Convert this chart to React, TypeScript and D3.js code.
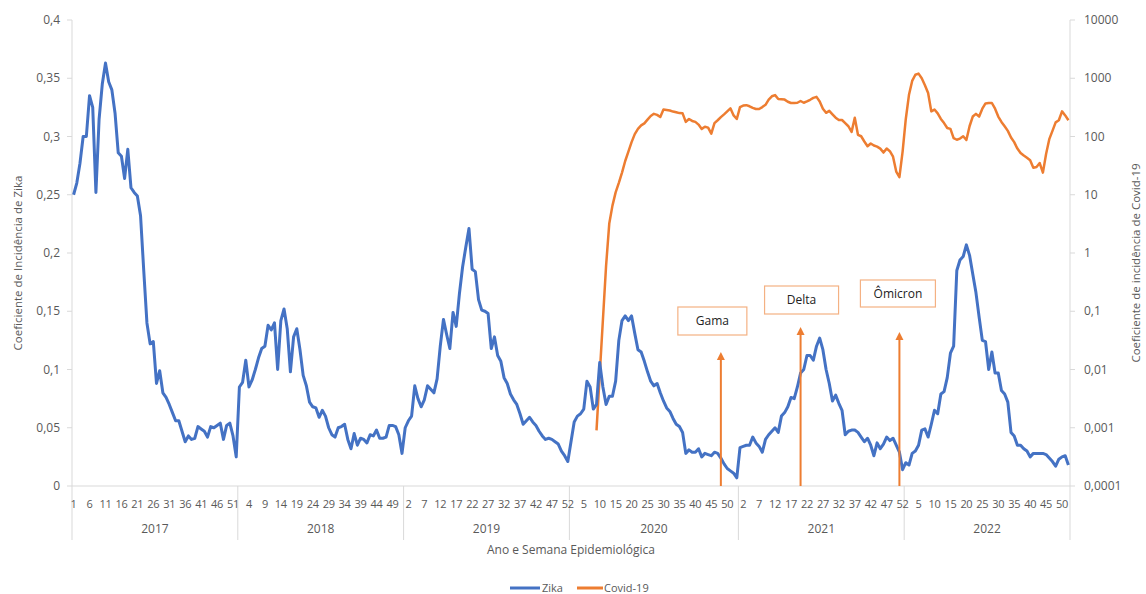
import * as d3 from 'd3';

// epidemiological weeks per year
const years = [2017, 2018, 2019, 2020, 2021, 2022];
const weeksPerYear = [52, 52, 52, 53, 52, 52];

// Zika incidence coefficient, one value per week
const zika2017 = [0.25, 0.26, 0.277, 0.3, 0.3, 0.335, 0.325, 0.252, 0.315, 0.345, 0.363, 0.347, 0.34, 0.32, 0.286, 0.283, 0.264, 0.289, 0.256, 0.252, 0.249, 0.232, 0.185, 0.14, 0.122, 0.124, 0.088, 0.099, 0.08, 0.076, 0.07, 0.063, 0.056, 0.056, 0.047, 0.038, 0.043, 0.04, 0.041, 0.051, 0.049, 0.047, 0.042, 0.051, 0.05, 0.052, 0.054, 0.04, 0.052, 0.054, 0.043, 0.025];
const zika2018 = [0.085, 0.089, 0.108, 0.085, 0.091, 0.1, 0.11, 0.118, 0.12, 0.138, 0.134, 0.14, 0.1, 0.142, 0.152, 0.135, 0.098, 0.128, 0.135, 0.117, 0.095, 0.086, 0.072, 0.068, 0.067, 0.059, 0.065, 0.06, 0.05, 0.044, 0.042, 0.05, 0.051, 0.053, 0.04, 0.032, 0.045, 0.035, 0.041, 0.04, 0.037, 0.044, 0.043, 0.048, 0.041, 0.041, 0.042, 0.052, 0.052, 0.051, 0.044, 0.028];
const zika2019 = [0.05, 0.056, 0.06, 0.086, 0.075, 0.068, 0.074, 0.086, 0.083, 0.08, 0.092, 0.12, 0.143, 0.13, 0.118, 0.149, 0.137, 0.165, 0.188, 0.205, 0.221, 0.186, 0.184, 0.16, 0.151, 0.15, 0.148, 0.118, 0.128, 0.112, 0.107, 0.093, 0.088, 0.079, 0.074, 0.07, 0.062, 0.053, 0.056, 0.059, 0.055, 0.052, 0.047, 0.043, 0.04, 0.041, 0.04, 0.038, 0.036, 0.03, 0.026, 0.021];
const zika2020 = [0.038, 0.055, 0.06, 0.062, 0.066, 0.09, 0.085, 0.066, 0.07, 0.106, 0.085, 0.07, 0.077, 0.077, 0.09, 0.125, 0.142, 0.146, 0.142, 0.146, 0.131, 0.117, 0.115, 0.107, 0.098, 0.09, 0.086, 0.088, 0.08, 0.073, 0.067, 0.064, 0.058, 0.053, 0.051, 0.046, 0.028, 0.031, 0.029, 0.029, 0.032, 0.025, 0.028, 0.027, 0.026, 0.029, 0.028, 0.024, 0.019, 0.015, 0.013, 0.011, 0.007];
const zika2021 = [0.033, 0.034, 0.035, 0.035, 0.042, 0.037, 0.034, 0.029, 0.04, 0.044, 0.047, 0.05, 0.046, 0.06, 0.063, 0.068, 0.076, 0.075, 0.085, 0.097, 0.1, 0.112, 0.112, 0.108, 0.12, 0.127, 0.117, 0.1, 0.088, 0.073, 0.078, 0.071, 0.065, 0.044, 0.047, 0.048, 0.048, 0.046, 0.042, 0.038, 0.041, 0.035, 0.026, 0.037, 0.032, 0.036, 0.042, 0.039, 0.041, 0.035, 0.029, 0.014];
const zika2022 = [0.02, 0.018, 0.028, 0.03, 0.035, 0.048, 0.049, 0.042, 0.053, 0.065, 0.062, 0.079, 0.081, 0.093, 0.114, 0.12, 0.185, 0.194, 0.197, 0.207, 0.198, 0.182, 0.166, 0.145, 0.125, 0.124, 0.1, 0.115, 0.097, 0.097, 0.082, 0.079, 0.072, 0.046, 0.043, 0.035, 0.035, 0.032, 0.03, 0.025, 0.028, 0.028, 0.028, 0.028, 0.027, 0.024, 0.021, 0.017, 0.023, 0.025, 0.026, 0.018];

// Covid-19 incidence coefficient, starts 2020 week 9
const covidStartWeek2020 = 9;
const covid2020 = [0.0009, 0.008, 0.07, 0.6, 3.2, 6.5, 11, 16, 24, 38, 55, 80, 110, 135, 155, 168, 195, 225, 245, 235, 216, 290, 285, 280, 268, 260, 252, 250, 178, 200, 185, 178, 160, 135, 147, 142, 112, 170, 190, 215, 240, 270, 305, 230, 200];
const covid2021 = [320, 340, 345, 330, 310, 296, 296, 320, 350, 430, 490, 513, 440, 437, 430, 395, 376, 376, 380, 407, 380, 400, 427, 460, 479, 400, 300, 255, 275, 240, 210, 192, 192, 170, 150, 120, 210, 107, 101, 82, 68, 76, 70, 67, 62, 53, 62, 56, 45, 25, 20, 55];
const covid2022 = [200, 520, 900, 1150, 1200, 1000, 760, 560, 270, 290, 250, 200, 170, 140, 135, 94, 88, 92, 101, 87, 150, 220, 245, 220, 300, 370, 376, 376, 300, 220, 178, 150, 125, 96, 80, 62, 52, 47, 43, 39, 29, 30, 35, 24, 50, 90, 125, 175, 190, 270, 230, 190];

const zikaTicks = [0, 0.05, 0.1, 0.15, 0.2, 0.25, 0.3, 0.35, 0.4];
const covidTicks = [0.0001, 0.001, 0.01, 0.1, 1, 10, 100, 1000, 10000];

// variants: label, year, week where the arrow points
const variantLabels = ['Gama', 'Delta', 'Ômicron'];
const variantYears = [2020, 2021, 2021];
const variantWeeks = [48, 20, 51];

const W = 1146;
const H = 594;
const M = { left: 72, right: 1070, top: 20, bottom: 486 };
const FONT = "'Open Sans', 'Noto Sans', sans-serif";
const GREY = '#595959';
const AXIS = '#D9D9D9';
const BLUE = '#4472C4';
const ORANGE = '#ED7D31';

// category list (year, week) built from the year table
const cats: { year: number; week: number }[] = [];
years.forEach((y, k) => {
  for (let w = 1; w <= weeksPerYear[k]; w++) cats.push({ year: y, week: w });
});
const idxOf = (year: number, week: number) => cats.findIndex(c => c.year === year && c.week === week);

const zika = [...zika2017, ...zika2018, ...zika2019, ...zika2020, ...zika2021, ...zika2022];
const covidValues = [...covid2020, ...covid2021, ...covid2022];
const covidStart = idxOf(2020, covidStartWeek2020);

const fmt = (v: number) => String(v).replace('.', ',');

// annotation box layout: [dx from arrow, top y, width, height, arrow tip y]
const boxLayout = [
  [-8.5, 307, 69, 28, 352],
  [1, 286, 74, 28, 327],
  [-1.5, 280, 75, 27, 332],
];

export default function App() {
  const x = d3.scaleBand<number>().domain(d3.range(cats.length)).range([M.left, M.right]);
  const xc = (i: number) => (x(i) as number) + x.bandwidth() / 2;
  const yL = d3.scaleLinear().domain([0, 0.4]).range([M.bottom, M.top]);
  const yR = d3.scaleLog().domain([0.0001, 10000]).range([M.bottom, M.top]);

  const zikaLine = d3.line<number>().x((_, i) => xc(i)).y(d => yL(d));
  const covidLine = d3.line<number>().x((_, i) => xc(i + covidStart)).y(d => yR(d));

  // year boundaries
  const yearStarts = years.map(y => idxOf(y, 1));
  const yearBounds = [...yearStarts.map(i => x(i) as number), M.right];

  return (
    <svg width={W} height={H} style={{ position: 'absolute', left: 0, top: 0, background: '#fff' }} fontFamily={FONT}>
      <rect width={W} height={H} fill="#fff" />

      {/* left axis */}
      <line x1={M.left} x2={M.left} y1={M.top} y2={M.bottom} stroke={AXIS} />
      {zikaTicks.map(t => (
        <g key={t}>
          <line x1={M.left - 5} x2={M.left} y1={yL(t)} y2={yL(t)} stroke={AXIS} />
          <text x={60} y={yL(t)} dy="0.35em" textAnchor="end" fontSize={12} fill={GREY}>{fmt(t)}</text>
        </g>
      ))}
      <text transform={`translate(22,${(M.top + M.bottom) / 2 + 10}) rotate(-90)`} textAnchor="middle" fontSize={11.5} fill={GREY}>
        Coeficiente de Incidência de Zika
      </text>

      {/* right axis */}
      <line x1={M.right} x2={M.right} y1={M.top} y2={M.bottom} stroke={AXIS} />
      {covidTicks.map(t => (
        <g key={t}>
          <line x1={M.right} x2={M.right + 5} y1={yR(t)} y2={yR(t)} stroke={AXIS} />
          <text x={1084} y={yR(t)} dy="0.35em" textAnchor="start" fontSize={12} fill={GREY}>{fmt(t)}</text>
        </g>
      ))}
      <text transform={`translate(1140,${(M.top + M.bottom) / 2 + 10}) rotate(-90)`} textAnchor="middle" fontSize={11.5} fill={GREY}>
        Coeficiente de incidência de Covid-19
      </text>

      {/* bottom category axis */}
      <line x1={M.left} x2={M.right} y1={M.bottom} y2={M.bottom} stroke={AXIS} />
      {yearBounds.map((bx, k) => (
        <line key={k} x1={bx} x2={bx} y1={M.bottom} y2={540} stroke={AXIS} />
      ))}
      {cats.map((c, i) => (i % 5 === 0 ? (
        <text key={i} x={xc(i)} y={504} dy="0.35em" textAnchor="middle" fontSize={11} fill={GREY} letterSpacing={-0.3}>{c.week}</text>
      ) : null))}
      {years.map((y, k) => (
        <text key={y} x={(yearBounds[k] + yearBounds[k + 1]) / 2} y={529} dy="0.35em" textAnchor="middle" fontSize={12} fill={GREY}>{y}</text>
      ))}
      <text x={(M.left + M.right) / 2} y={550} dy="0.35em" textAnchor="middle" fontSize={12} fill={GREY}>
        Ano e Semana Epidemiológica
      </text>

      {/* series */}
      <path d={covidLine(covidValues) || ''} fill="none" stroke={ORANGE} strokeWidth={2.5} strokeLinejoin="round" />
      <path d={zikaLine(zika) || ''} fill="none" stroke={BLUE} strokeWidth={3} strokeLinejoin="round" />

      {/* variant annotations */}
      {variantLabels.map((label, k) => {
        const ax = xc(idxOf(variantYears[k], variantWeeks[k]));
        const [dx, top, bw, bh, tip] = boxLayout[k];
        const cx = ax + dx;
        return (
          <g key={label}>
            <line x1={ax} x2={ax} y1={M.bottom} y2={tip + 6} stroke={ORANGE} strokeWidth={2} />
            <path d={`M${ax - 4},${tip + 8} L${ax},${tip} L${ax + 4},${tip + 8} Z`} fill={ORANGE} />
            <rect x={cx - bw / 2} y={top} width={bw} height={bh} fill="#fff" stroke="#F4B183" strokeWidth={1.2} />
            <text x={cx} y={top + bh / 2} dy="0.35em" textAnchor="middle" fontSize={12} fill="#222">{label}</text>
          </g>
        );
      })}

      {/* legend */}
      <line x1={510} x2={540} y1={588} y2={588} stroke={BLUE} strokeWidth={3} />
      <text x={542} y={588} dy="0.35em" fontSize={11} fill={GREY}>Zika</text>
      <line x1={577} x2={603} y1={588} y2={588} stroke={ORANGE} strokeWidth={3} />
      <text x={604} y={588} dy="0.35em" fontSize={11} fill={GREY}>Covid-19</text>
    </svg>
  );
}
